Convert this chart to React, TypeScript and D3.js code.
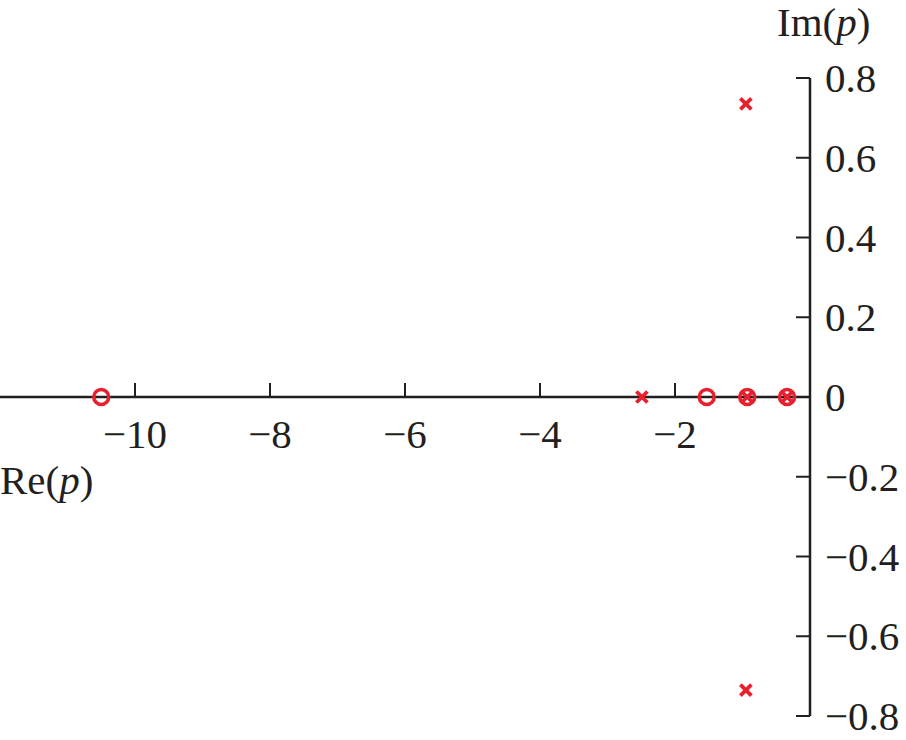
import React from "react";
import * as d3 from "d3";

const xTicks = [-10, -8, -6, -4, -2];
const yTicks = [0.8, 0.6, 0.4, 0.2, 0, -0.2, -0.4, -0.6, -0.8];
const zerosRe = [-10.5, -1.53, -0.93, -0.34];
const zerosIm = [0, 0, 0, 0];
const polesRe = [-2.49, -0.95, -0.95, -0.93, -0.34];
const polesIm = [0, 0.735, -0.735, 0, 0];

const W = 906;
const H = 740;
const RED = "#e8202e";
const AX = "#231f20";
const FONT = "'Liberation Serif', 'Times New Roman', serif";

function fmt(v: number): string {
  const s = Number.isInteger(v) ? String(Math.abs(v)) : Math.abs(v).toFixed(1);
  return v < 0 ? "\u2212" + s : s;
}

export default function App() {
  const x = d3.scaleLinear().domain([-12, 0]).range([0, 810]);
  const y = d3.scaleLinear().domain([-0.8, 0.8]).range([716, 78]);
  const x0 = x(0);
  const y0 = y(0);
  const cs = 5.5;
  const fs = 41;
  return (
    <svg
      width={W}
      height={H}
      style={{ position: "absolute", left: 0, top: 0, background: "#fff" }}
      fontFamily={FONT}
    >
      {/* x axis */}
      <line x1={x(-12)} x2={x0} y1={y0} y2={y0} stroke={AX} strokeWidth={2.5} />
      {xTicks.map((t) => (
        <g key={"xt" + t}>
          <line x1={x(t)} x2={x(t)} y1={y0} y2={y0 - 14} stroke={AX} strokeWidth={2} />
          <text x={x(t)} y={y0 + 51} fontSize={fs} textAnchor="middle" fill={AX}>
            {fmt(t)}
          </text>
        </g>
      ))}
      {/* y axis */}
      <line x1={x0} x2={x0} y1={y(0.8)} y2={y(-0.8)} stroke={AX} strokeWidth={2.5} />
      {yTicks.map((t) => (
        <g key={"yt" + t}>
          <line x1={x0} x2={x0 - 14} y1={y(t)} y2={y(t)} stroke={AX} strokeWidth={2} />
          <text x={x0 + 15} y={y(t) + 14} fontSize={fs} textAnchor="start" fill={AX}>
            {fmt(t)}
          </text>
        </g>
      ))}
      <text x={0} y={494} fontSize={fs} fill={AX}>
        Re(<tspan fontStyle="italic">p</tspan>)
      </text>
      <text x={777} y={36} fontSize={fs} fill={AX}>
        Im(<tspan fontStyle="italic">p</tspan>)
      </text>
      {zerosRe.map((r, i) => (
        <circle
          key={"z" + i}
          cx={x(r)}
          cy={y(zerosIm[i])}
          r={7.5}
          fill="none"
          stroke={RED}
          strokeWidth={3.5}
        />
      ))}
      {polesRe.map((r, i) => {
        const cx = x(r);
        const cy = y(polesIm[i]);
        return (
          <g key={"p" + i} stroke={RED} strokeWidth={3.8}>
            <line x1={cx - cs} y1={cy - cs} x2={cx + cs} y2={cy + cs} />
            <line x1={cx - cs} y1={cy + cs} x2={cx + cs} y2={cy - cs} />
          </g>
        );
      })}
    </svg>
  );
}
